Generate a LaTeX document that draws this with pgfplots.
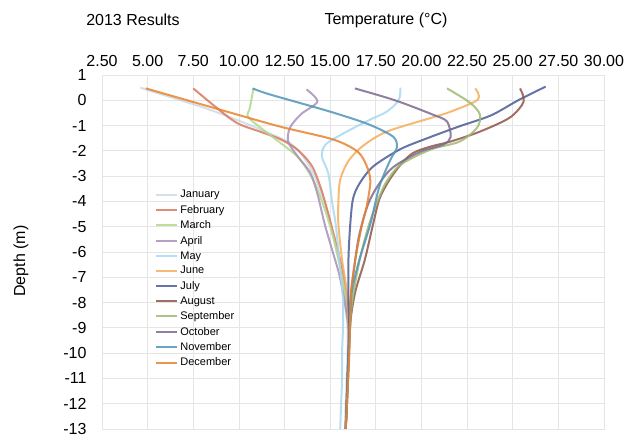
\documentclass[border=0pt]{standalone}
\usepackage{pgfplots}
\pgfplotsset{compat=1.18}
\usepackage{fontspec}
\setmainfont{Liberation Sans}
\definecolor{cJan}{RGB}{180,204,220}
\definecolor{cFeb}{RGB}{217,120,95}
\definecolor{cMar}{RGB}{180,216,140}
\definecolor{cApr}{RGB}{168,144,184}
\definecolor{cMay}{RGB}{168,216,240}
\definecolor{cJun}{RGB}{245,174,94}
\definecolor{cJul}{RGB}{75,92,150}
\definecolor{cAug}{RGB}{145,85,72}
\definecolor{cSep}{RGB}{157,187,110}
\definecolor{cOct}{RGB}{123,106,142}
\definecolor{cNov}{RGB}{79,148,184}
\definecolor{cDec}{RGB}{232,130,46}
\begin{document}
\begin{tikzpicture}
\path[use as bounding box] (0pt,0pt) rectangle (641pt,437pt);
\begin{axis}[
  at={(102pt,8pt)}, anchor=south west,
  width=502pt, height=354pt, scale only axis,
  xmin=2.5, xmax=30, ymin=-13, ymax=1,
  xtick={2.5,5,7.5,10,12.5,15,17.5,20,22.5,25,27.5,30},
  ytick={-13,-12,-11,-10,-9,-8,-7,-6,-5,-4,-3,-2,-1,0,1},
  xticklabel pos=top,
  xmajorgrids, ymajorgrids,
  major grid style={draw=black!10, line width=0.8pt},
  axis line style={draw=black!10, line width=0.8pt},
  tick style={draw=none},
  tick label style={font=\fontsize{16}{19}\selectfont},
  /pgf/number format/assume math mode=true,
  xticklabel style={/pgf/number format/.cd, fixed, fixed zerofill, precision=2, /tikz/.cd, yshift=5pt},
  yticklabel style={xshift=-12pt},
  every axis plot/.append style={line width=2pt, opacity=0.85, smooth, tension=0.5, no markers},
  legend style={at={(0.10,0.686)}, anchor=north west, draw=none, fill=none,
    font=\fontsize{11}{13}\selectfont, row sep=1.9pt},
  legend cell align=left,
  legend image code/.code={\draw[#1,line width=2pt] (0pt,0pt) -- (21pt,0pt);},
]
\addplot[cJan, opacity=0.6] coordinates {(4.6,0.5) (7.9,-0.25) (9.4,-0.64) (11.2,-1.16) (12.8,-1.7) (13.6,-2.3) (14.2,-3.1) (14.8,-4.3) (15.2,-5.5) (15.6,-6.8) (15.8,-8) (15.95,-9) (15.95,-10) (15.9,-11) (15.85,-12) (15.8,-13)};
\addlegendentry{January}
\addplot[cFeb] coordinates {(7.5,0.47) (8.7,-0.25) (9.9,-0.9) (11.2,-1.25) (12.3,-1.55) (13.2,-1.95) (14.0,-2.6) (14.5,-3.5) (14.9,-4.5) (15.3,-5.6) (15.7,-6.8) (15.9,-8) (16.0,-9) (16.0,-10) (15.95,-11) (15.9,-12) (15.85,-13)};
\addlegendentry{February}
\addplot[cMar] coordinates {(10.8,0.47) (10.6,-0.3) (10.5,-0.65) (11.3,-1.15) (12.3,-1.7) (13.3,-2.3) (14.1,-3.2) (14.7,-4.3) (15.2,-5.5) (15.6,-6.8) (15.9,-8) (16.0,-9) (16.0,-10) (15.95,-11) (15.9,-12) (15.85,-13)};
\addlegendentry{March}
\addplot[cApr] coordinates {(13.7,0.43) (14.3,-0.05) (13.4,-0.55) (12.8,-1.08) (12.7,-1.63) (13.2,-2.2) (13.9,-2.86) (14.3,-3.7) (14.7,-4.9) (15.1,-5.9) (15.5,-6.9) (15.8,-8) (16.0,-9) (16.0,-10) (15.95,-11) (15.9,-12) (15.85,-13)};
\addlegendentry{April}
\addplot[cMay] coordinates {(18.85,0.5) (18.75,0.0) (18.1,-0.45) (17.2,-0.76) (15.8,-1.28) (14.75,-1.75) (14.55,-2.23) (14.9,-2.9) (15.1,-4.0) (15.3,-4.9) (15.5,-6.3) (15.7,-7.9) (15.7,-9) (15.65,-10) (15.65,-11) (15.6,-12) (15.55,-13)};
\addlegendentry{May}
\addplot[cJun] coordinates {(22.95,0.47) (23.1,0.03) (21.6,-0.45) (20.6,-0.68) (18.1,-1.24) (16.8,-1.8) (16.0,-2.4) (15.55,-3.14) (15.45,-4.0) (15.45,-4.9) (15.65,-6.3) (15.9,-7.5) (16.0,-8.5) (16.0,-10) (15.95,-11) (15.9,-12) (15.85,-13)};
\addlegendentry{June}
\addplot[cJul] coordinates {(26.8,0.54) (25.3,0.0) (23.8,-0.6) (22.0,-1.05) (20.1,-1.56) (18.8,-1.95) (17.35,-2.62) (16.6,-3.3) (16.25,-3.9) (16.1,-4.9) (16.0,-6.3) (16.0,-8) (16.05,-9) (16.0,-10) (15.95,-11) (15.9,-12) (15.85,-13)};
\addlegendentry{July}
\addplot[cAug] coordinates {(25.4,0.47) (25.6,-0.05) (24.85,-0.68) (23.2,-1.24) (21.6,-1.63) (20.5,-1.83) (19.5,-2.1) (18.8,-2.6) (18.2,-3.2) (17.7,-3.9) (17.35,-4.9) (16.9,-6.3) (16.4,-7.5) (16.15,-8.5) (16.05,-9.5) (16.0,-10.5) (15.95,-11.5) (15.9,-12.3) (15.85,-13)};
\addlegendentry{August}
\addplot[cSep] coordinates {(21.4,0.47) (22.65,-0.09) (23.2,-0.56) (23.05,-1.08) (22.1,-1.63) (20.5,-1.95) (18.85,-2.55) (18.1,-3.2) (17.7,-3.8) (17.2,-4.75) (16.75,-5.9) (16.4,-7.1) (16.15,-8.3) (16.05,-9.5) (16.0,-10.5) (15.95,-11.5) (15.9,-12.3) (15.85,-13)};
\addlegendentry{September}
\addplot[cOct] coordinates {(16.35,0.47) (18.55,0.0) (20.6,-0.56) (21.4,-0.84) (21.6,-1.45) (21.2,-1.75) (19.9,-2.05) (18.3,-2.74) (17.2,-3.9) (16.6,-5.3) (16.3,-6.7) (16.1,-8) (16.05,-9) (16.0,-10) (15.95,-11) (15.9,-12) (15.85,-13)};
\addlegendentry{October}
\addplot[cNov] coordinates {(10.75,0.47) (11.7,0.23) (15.0,-0.45) (17.1,-0.95) (18.45,-1.44) (18.65,-1.87) (18.3,-2.35) (17.7,-3.4) (17.2,-4.9) (16.6,-6.3) (16.2,-7.5) (16.1,-8.5) (16.05,-9.5) (16.0,-10.5) (15.95,-11.5) (15.9,-12.3) (15.85,-13)};
\addlegendentry{November}
\addplot[cDec] coordinates {(4.9,0.47) (9.35,-0.45) (12.25,-1.04) (15.16,-1.55) (16.5,-2.03) (17.0,-2.6) (17.2,-3.2) (17.0,-4.2) (16.75,-4.9) (16.4,-6.2) (16.15,-7.5) (16.1,-8.5) (16.05,-10) (15.95,-11.5) (15.85,-13)};
\addlegendentry{December}
\end{axis}
\node[font=\fontsize{16}{19}\selectfont] at (133pt,417pt) {2013 Results};
\node[font=\fontsize{16}{19}\selectfont] at (386pt,417pt) {Temperature (°C)};
\node[font=\fontsize{16}{19}\selectfont, rotate=90] at (21pt,176pt) {Depth (m)};
\end{tikzpicture}
\end{document}
